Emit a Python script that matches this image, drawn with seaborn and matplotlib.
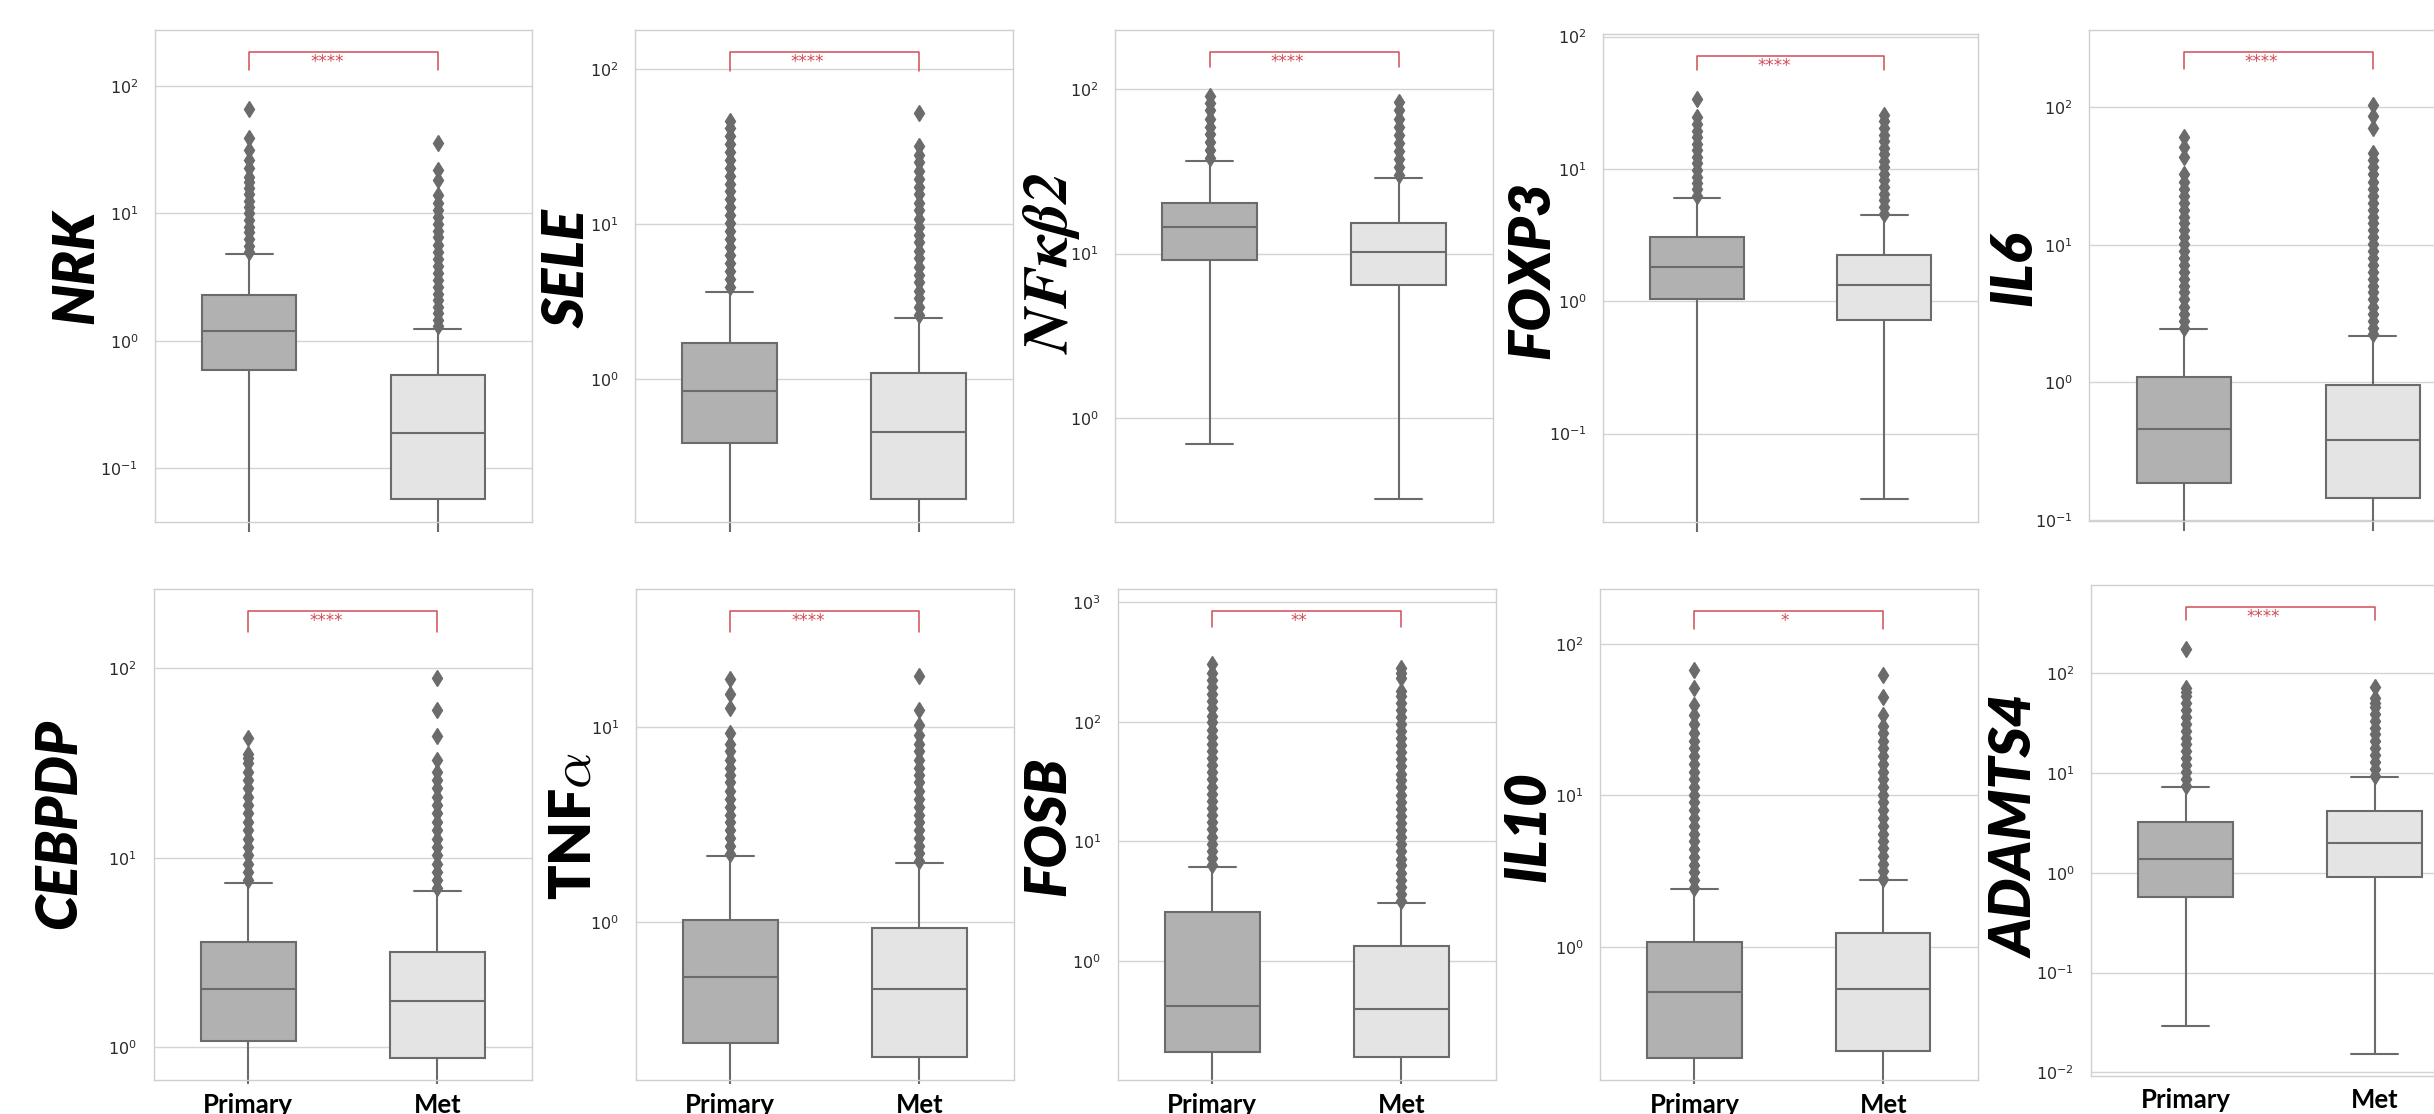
import numpy as np
import pandas as pd
import matplotlib
matplotlib.use("Agg")
import matplotlib.pyplot as plt
import seaborn as sns
from matplotlib.transforms import Bbox, TransformedBbox, blended_transform_factory

# ---------------- data ----------------
genes = ["NRK", "SELE", "NFKB2", "FOXP3", "IL6", "CEBPDP", "TNFA", "FOSB", "IL10", "ADAMTS4"]
gene_labels = ["NRK", "SELE", r"$\mathbfit{NF\kappa\beta 2}$", "FOXP3", "IL6",
               "CEBPDP", r"TNF$\alpha$", "FOSB", "IL10", "ADAMTS4"]
groups = ["Primary", "Met"]
stars = ["****", "****", "****", "****", "****", "****", "****", "**", "*", "****"]

primary_lo = [0, 0, 0.697, 0, 0, 0, 0, 0, 0, 0.0291]
primary_q1 = [0.586, 0.388, 9.15, 1.04, 0.186, 1.08, 0.24, 0.1727, 0.184, 0.57]
primary_med = [1.19, 0.84, 14.45, 1.83, 0.457, 2.02, 0.522, 0.418, 0.503, 1.374]
primary_q3 = [2.29, 1.70, 20.2, 3.04, 1.09, 3.59, 1.02, 2.56, 1.072, 3.21]
primary_hi = [4.8, 3.65, 36.7, 6.0, 2.44, 7.35, 2.18, 6.1, 2.40, 7.15]

met_lo = [0, 0, 0.326, 0.0322, 0, 0, 0, 0, 0, 0.0153]
met_q1 = [0.057, 0.1686, 6.44, 0.719, 0.1437, 0.871, 0.2024, 0.156, 0.205, 0.914]
met_med = [0.19, 0.453, 10.2, 1.317, 0.38, 1.74, 0.453, 0.399, 0.530, 1.98]
met_q3 = [0.54, 1.096, 15.4, 2.23, 0.96, 3.19, 0.928, 1.33, 1.227, 4.2]
met_hi = [1.25, 2.48, 28.8, 4.47, 2.18, 6.65, 2.01, 3.08, 2.75, 9.1]

primary_fliers = [
    [5.0, 5.6, 6.3, 7.1, 7.9, 8.9, 10, 11.2, 12.6, 14.1, 15.8, 17.8, 19.5, 22.6, 26.3, 31.5, 39.4, 66.6],
    [3.9, 4.4, 5.0, 5.6, 6.3, 7.1, 8.0, 9.0, 10.1, 11.4, 12.8, 14.4, 16.2, 18.2, 20.5, 23, 26, 29, 33, 37, 41.5, 46.4],
    [38, 42.5, 47.5, 53, 59, 66, 74, 82, 90],
    [6.3, 7.0, 7.8, 8.7, 9.8, 11, 12.3, 13.8, 15.5, 17.4, 19.5, 21.9, 24.7, 33.6],
    [2.5, 2.8, 3.15, 3.55, 4.0, 4.5, 5.0, 5.6, 6.3, 7.1, 8.0, 9.0, 10.1, 11.3, 12.7, 14.3, 16, 18, 20.2,
     22.7, 25.5, 28.7, 32.5, 43.4, 51.6, 60.6],
    [7.6, 8.4, 9.3, 10.3, 11.4, 12.6, 14, 15.5, 17.2, 19, 21, 23.3, 25.8, 28.5, 31.5, 33.7, 35.2, 43],
    [2.24, 2.45, 2.7, 2.95, 3.25, 3.55, 3.9, 4.3, 4.7, 5.2, 5.7, 6.2, 6.8, 7.5, 8.2, 9.3, 12.5, 14.7, 17.6],
    [6.4, 7.3, 8.4, 9.6, 11, 12.6, 14.5, 16.6, 19, 21.8, 25, 28.7, 33, 38, 43.5, 50, 57, 65.5, 75, 86, 99,
     113, 130, 149, 171, 196, 225, 258, 304],
    [2.45, 2.75, 3.1, 3.5, 3.95, 4.45, 5.0, 5.6, 6.3, 7.1, 8.0, 9.0, 10.1, 11.4, 12.8, 14.4, 16.2, 18.2,
     20.5, 23, 26, 29.5, 33.8, 39.7, 51.3, 67.9],
    [7.4, 8.7, 10.2, 12, 14, 16.5, 19.3, 22.6, 26.5, 31, 36.5, 42.7, 50, 58.5, 65, 71.6, 175],
]
met_fliers = [
    [1.3, 1.45, 1.65, 1.85, 2.1, 2.35, 2.65, 3.0, 3.4, 3.9, 4.4, 5.0, 5.7, 6.5, 7.3, 8.3, 9.4, 10.6, 12, 14,
     18.3, 21.9, 35.6],
    [2.6, 2.9, 3.3, 3.7, 4.2, 4.7, 5.3, 6.0, 6.7, 7.6, 8.5, 9.6, 10.8, 12.2, 13.7, 15.5, 17.4, 19.6, 22, 25,
     28, 31.6, 52.2],
    [30, 33.5, 37.5, 42, 47, 52.5, 59, 66, 74, 83.7],
    [4.6, 5.2, 5.8, 6.5, 7.3, 8.2, 9.2, 10.3, 11.5, 12.9, 14.5, 16.2, 18.2, 20.4, 22.9, 25.5],
    [2.24, 2.5, 2.8, 3.15, 3.55, 4.0, 4.5, 5.0, 5.6, 6.3, 7.1, 8.0, 9.0, 10.1, 11.3, 12.7, 14.3, 16, 18,
     20.2, 22.7, 25.5, 28.7, 32.5, 36.5, 41, 46, 70.8, 86.6, 103],
    [6.9, 7.6, 8.4, 9.3, 10.3, 11.4, 12.6, 14, 15.5, 17.2, 19, 21, 23.3, 25.8, 28.4, 32.8, 44, 60.2, 89.4],
    [2.05, 2.25, 2.45, 2.7, 2.95, 3.25, 3.55, 3.9, 4.3, 4.7, 5.2, 5.7, 6.2, 6.8, 7.5, 8.2, 9.1, 10.3, 12.3, 18.2],
    [3.2, 3.65, 4.2, 4.8, 5.5, 6.3, 7.2, 8.3, 9.5, 10.9, 12.5, 14.3, 16.4, 18.8, 21.5, 24.7, 28.3, 32.4, 37,
     42.5, 48.7, 55.8, 64, 73, 84, 96, 110, 126, 145, 166, 182, 232, 255, 283],
    [2.82, 3.15, 3.55, 4.0, 4.5, 5.0, 5.6, 6.3, 7.1, 8.0, 9.0, 10.1, 11.4, 12.8, 14.4, 16.2, 18.2, 20.5, 23,
     25.7, 28.7, 33.8, 44.7, 62.7],
    [9.4, 11, 12.9, 15.1, 17.7, 20.7, 24.3, 28.4, 33.3, 39, 45.7, 50.5, 56, 72.8],
]

# ---------------- layout (pixels of the 2434x1114 canvas) ----------------
W, H = 2434, 1114
panel_px = [  # left, top, right, bottom
    (155, 30, 532, 521.7), (635, 30, 1013.3, 521.7), (1115, 30, 1493.3, 521.7),
    (1603.3, 34.4, 1977.7, 521.7), (2089.3, 30, 2467.3, 520.7),
    (153.6, 589, 532, 1080.1), (635.7, 589, 1014, 1080.1), (1117.7, 589, 1496, 1080.1),
    (1600, 589, 1977.7, 1080.1), (2091, 585.4, 2469, 1075.9),
]
ylim_exp = [(-1.419, 2.440), (-0.922, 2.251), (-0.627, 2.357), (-1.666, 2.017), (-1.005, 2.56),
            (-0.175, 2.420), (-0.81, 1.708), (-0.996, 3.112), (-0.88, 2.364), (-2.035, 2.879)]
label_pos = [(-0.2095, 0.517), (-0.178, 0.515), (-0.168, 0.525), (-0.189, 0.5165), (-0.199, 0.514),
             (-0.25, 0.5215), (-0.163, 0.517), (-0.184, 0.517), (-0.19, 0.517), (-0.197, 0.508)]
bracket_low = [0.918, 0.917, 0.9245, 0.927, 0.921, 0.912, 0.912, 0.922, 0.919, 0.93]
bracket_top = 0.955

primary_color = "#b1b1b1"
met_color = "#e4e4e4"
line_color = "#6b6b6b"
sig_color = "#d14b57"

sns.set_theme(style="whitegrid")
plt.rcParams["font.family"] = ["Lato", "DejaVu Sans"]
plt.rcParams["axes.edgecolor"] = "#cfcfcf"
plt.rcParams["grid.color"] = "#d4d4d4"
plt.rcParams["axes.linewidth"] = 1.0
plt.rcParams["grid.linewidth"] = 1.0


def make_sample(lo, q1, med, q3, hi, fliers):
    r = len(fliers) + 3
    return [lo] + [q1] * r + [med] * r + [q3] * r + [hi] + list(fliers)


fig = plt.figure(figsize=(W / 100, H / 100), dpi=100)

for i, gene in enumerate(genes):
    left, top, right, bottom = panel_px[i]
    ax = fig.add_axes([left / W, 1 - bottom / H, (right - left) / W, (bottom - top) / H])

    p_vals = make_sample(primary_lo[i], primary_q1[i], primary_med[i], primary_q3[i], primary_hi[i],
                         primary_fliers[i])
    m_vals = make_sample(met_lo[i], met_q1[i], met_med[i], met_q3[i], met_hi[i], met_fliers[i])
    df = pd.DataFrame({
        "group": ["Primary"] * len(p_vals) + ["Met"] * len(m_vals),
        "value": p_vals + m_vals,
    })

    sns.boxplot(data=df, x="group", y="value", hue="group", order=groups, hue_order=groups,
                palette=[primary_color, met_color], saturation=1, width=0.5, linewidth=1.5,
                linecolor=line_color, fliersize=8,
                flierprops=dict(marker="d", markerfacecolor=line_color, markeredgecolor=line_color,
                                markeredgewidth=1.0),
                legend=False, ax=ax)

    ax.set_yscale("log")
    ax.set_ylim(10 ** ylim_exp[i][0], 10 ** ylim_exp[i][1])
    ax.set_xlim(-0.5, 1.5)
    ax.xaxis.grid(False)
    ax.yaxis.grid(True, which="major")

    # let lower whiskers run slightly past the frame, as in the reference
    ext = (10 if i < 5 else 4) / (bottom - top)
    for c in ax.containers:
        for w in getattr(c, "whiskers", []):
            w.set_clip_box(TransformedBbox(Bbox([[0, -ext], [1, 1]]), ax.transAxes))

    ax.tick_params(axis="y", length=0, pad=12, labelsize=11.5, labelcolor="#2a2a2a")
    ax.tick_params(axis="x", length=0, pad=9)
    for lab in ax.get_yticklabels():
        lab.set_family("DejaVu Sans")

    if i < 5:
        ax.set_xticklabels([])
    else:
        ax.set_xticks([0, 1])
        ax.set_xticklabels(groups, fontsize=18.5, fontweight="bold", color="black")
    ax.set_xlabel("")

    if gene == "NFKB2":
        ax.set_ylabel(gene_labels[i], fontsize=45, color="black", math_fontfamily="stix")
    elif gene == "TNFA":
        ax.set_ylabel(gene_labels[i], fontsize=41, fontweight="heavy", color="black",
                      math_fontfamily="cm")
    else:
        ax.set_ylabel(gene_labels[i], fontsize=41, fontweight="heavy", fontstyle="italic", color="black")
    ax.yaxis.set_label_coords(*label_pos[i])
    ax.yaxis.label.set_va("center")

    # significance bracket
    tr = blended_transform_factory(ax.transData, ax.transAxes)
    ax.plot([0, 0, 1, 1], [bracket_low[i], bracket_top, bracket_top, bracket_low[i]],
            color=sig_color, lw=1.1, transform=tr, clip_on=False)
    ax.text(0.5, bracket_top - 0.002, stars[i], transform=tr, ha="right", va="top",
            fontsize=12, color=sig_color, family="DejaVu Sans")

fig.savefig("out.png", dpi=100)
